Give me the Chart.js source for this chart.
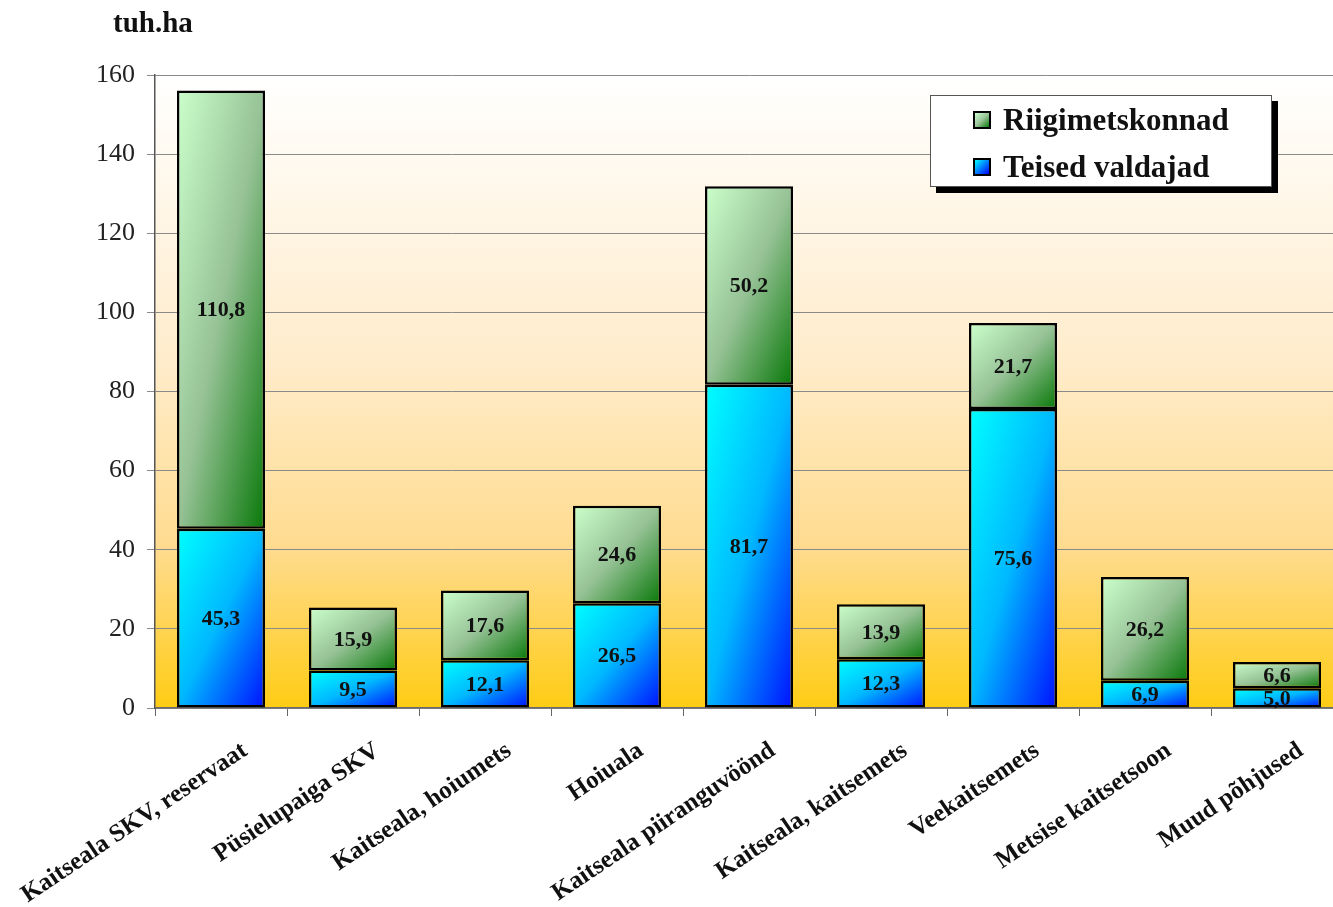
<!DOCTYPE html>
<html>
<head>
<meta charset="utf-8">
<script src="https://cdn.jsdelivr.net/npm/chart.js@4/dist/chart.umd.min.js"></script>
<style>
  html, body { margin: 0; padding: 0; background: #fff; overflow: hidden; }
  #wrap { position: relative; width: 1345px; height: 907px; }
  #unit { position: absolute; left: 113px; top: 6px; font: bold 29px "Liberation Serif", serif; color: #111; }
  #legend { position: absolute; left: 930px; top: 95px; width: 342px; height: 92px; box-sizing: border-box;
            border: 1px solid #555; background: #fff; box-shadow: 6px 6px 0 #000; }
  .item { position: absolute; left: 42px; height: 30px; display: flex; align-items: center;
          font: bold 31px "Liberation Serif", serif; color: #111; white-space: nowrap; }
  .sw { width: 14px; height: 14px; border: 2px solid #000; margin-right: 12px; }
</style>
</head>
<body>
<div id="wrap">
  <canvas id="c" width="1345" height="907"></canvas>
  <div id="unit">tuh.ha</div>
  <div id="legend">
    <div class="item" style="top:9px"><div class="sw" style="background:linear-gradient(135deg,#ccffcc,#99c499 50%,#0a7a0a)"></div>Riigimetskonnad</div>
    <div class="item" style="top:56px"><div class="sw" style="background:linear-gradient(135deg,#00ffff,#0000ff)"></div>Teised valdajad</div>
  </div>
</div>
<script>
// Categories and values (thousand hectares)
const categories = [
  'Kaitseala SKV, reservaat',
  'Püsielupaiga SKV',
  'Kaitseala, hoiumets',
  'Hoiuala',
  'Kaitseala piiranguvöönd',
  'Kaitseala, kaitsemets',
  'Veekaitsemets',
  'Metsise kaitsetsoon',
  'Muud põhjused'
];
const teisedValdajad = [45.3, 9.5, 12.1, 26.5, 81.7, 12.3, 75.6, 6.9, 5.0];
const riigimetskonnad = [110.8, 15.9, 17.6, 24.6, 50.2, 13.9, 21.7, 26.2, 6.6];
const yTicks = [0, 20, 40, 60, 80, 100, 120, 140, 160];

const BAR_PCT = 0.667;
const SERIF = '"Liberation Serif", serif';

// Diagonal gradient across one bar segment, light at top-left, dark at bottom-right
function segmentGradient(stops) {
  return (ctx) => {
    const chart = ctx.chart;
    const xs = chart.scales.x, ys = chart.scales.y;
    if (ctx.type !== 'data' || !chart.chartArea || !xs || !ys) return stops[0][1];
    const i = ctx.dataIndex, di = ctx.datasetIndex;
    let base = 0;
    for (let k = 0; k < di; k++) base += chart.data.datasets[k].data[i];
    const v = chart.data.datasets[di].data[i];
    const cw = xs.width / chart.data.labels.length;
    const w = cw * BAR_PCT;
    const x0 = xs.getPixelForValue(i) - w / 2;
    const y0 = ys.getPixelForValue(base + v);
    const h = ys.getPixelForValue(base) - y0;
    const L2 = w * w + h * h;
    const g = chart.ctx.createLinearGradient(x0, y0, x0 + 2 * w * h * h / L2, y0 + 2 * w * w * h / L2);
    stops.forEach(([o, c]) => g.addColorStop(o, c));
    return g;
  };
}

// Plot area background: white fading to warm yellow
const plotBackground = {
  id: 'plotBackground',
  beforeDraw(chart) {
    const { ctx, chartArea: a } = chart;
    const g = ctx.createLinearGradient(0, a.top, 0, a.bottom);
    g.addColorStop(0, '#ffffff');
    g.addColorStop(0.45, '#ffeccb');
    g.addColorStop(0.75, '#ffdb8e');
    g.addColorStop(1, '#ffcc14');
    ctx.save();
    ctx.fillStyle = g;
    ctx.fillRect(a.left, a.top, a.right - a.left, a.bottom - a.top);
    ctx.restore();
  }
};

// Value labels centred in every segment
const segmentLabels = {
  id: 'segmentLabels',
  afterDatasetsDraw(chart) {
    const ctx = chart.ctx;
    ctx.save();
    ctx.font = 'bold 22px ' + SERIF;
    ctx.fillStyle = '#111';
    ctx.textAlign = 'center';
    ctx.textBaseline = 'middle';
    chart.data.datasets.forEach((ds, di) => {
      chart.getDatasetMeta(di).data.forEach((el, i) => {
        const p = el.getProps(['x', 'y', 'base'], true);
        ctx.fillText(ds.data[i].toFixed(1).replace('.', ','), p.x, (p.y + p.base) / 2 + 1);
      });
    });
    ctx.restore();
  }
};

new Chart(document.getElementById('c'), {
  type: 'bar',
  data: {
    labels: categories,
    datasets: [
      {
        label: 'Teised valdajad',
        data: teisedValdajad,
        backgroundColor: segmentGradient([[0, '#00ffff'], [0.5, '#00b8ff'], [1, '#0010ff']]),
        borderColor: '#000',
        borderWidth: 2.5,
        borderSkipped: false
      },
      {
        label: 'Riigimetskonnad',
        data: riigimetskonnad,
        backgroundColor: segmentGradient([[0, '#ccffcc'], [0.5, '#96c296'], [1, '#087808']]),
        borderColor: '#000',
        borderWidth: 2.5,
        borderSkipped: false
      }
    ]
  },
  options: {
    responsive: false,
    animation: false,
    events: [],
    layout: { padding: { top: 75, right: 2, left: 0, bottom: 0 } },
    datasets: { bar: { barPercentage: BAR_PCT, categoryPercentage: 1 } },
    plugins: { legend: { display: false }, tooltip: { enabled: false } },
    scales: {
      x: {
        stacked: true,
        offset: true,
        grid: { display: true, drawOnChartArea: false, drawTicks: true, tickLength: 8, offset: true, color: '#666' },
        border: { display: true, color: '#6b6b6b', width: 1.5 },
        ticks: {
          autoSkip: false, maxRotation: 34, minRotation: 34,
          labelOffset: 24, padding: 20,
          color: '#111', font: { family: SERIF, size: 25, weight: 'bold' }
        },
        afterFit(s) { s.height = 199; s.paddingLeft = 0; s.paddingRight = 0; }
      },
      y: {
        stacked: true,
        min: 0, max: 160,
        afterBuildTicks(s) { s.ticks = yTicks.map(v => ({ value: v })); },
        grid: { color: '#8a8a8a', lineWidth: 1, tickLength: 8, drawTicks: true },
        border: { display: true, color: '#555', width: 1.5 },
        ticks: { padding: 12, color: '#222', font: { family: SERIF, size: 26 } },
        afterFit(s) { s.width = 155; s.paddingTop = 0; s.paddingBottom = 0; }
      }
    }
  },
  plugins: [plotBackground, segmentLabels]
});
</script>
</body>
</html>
